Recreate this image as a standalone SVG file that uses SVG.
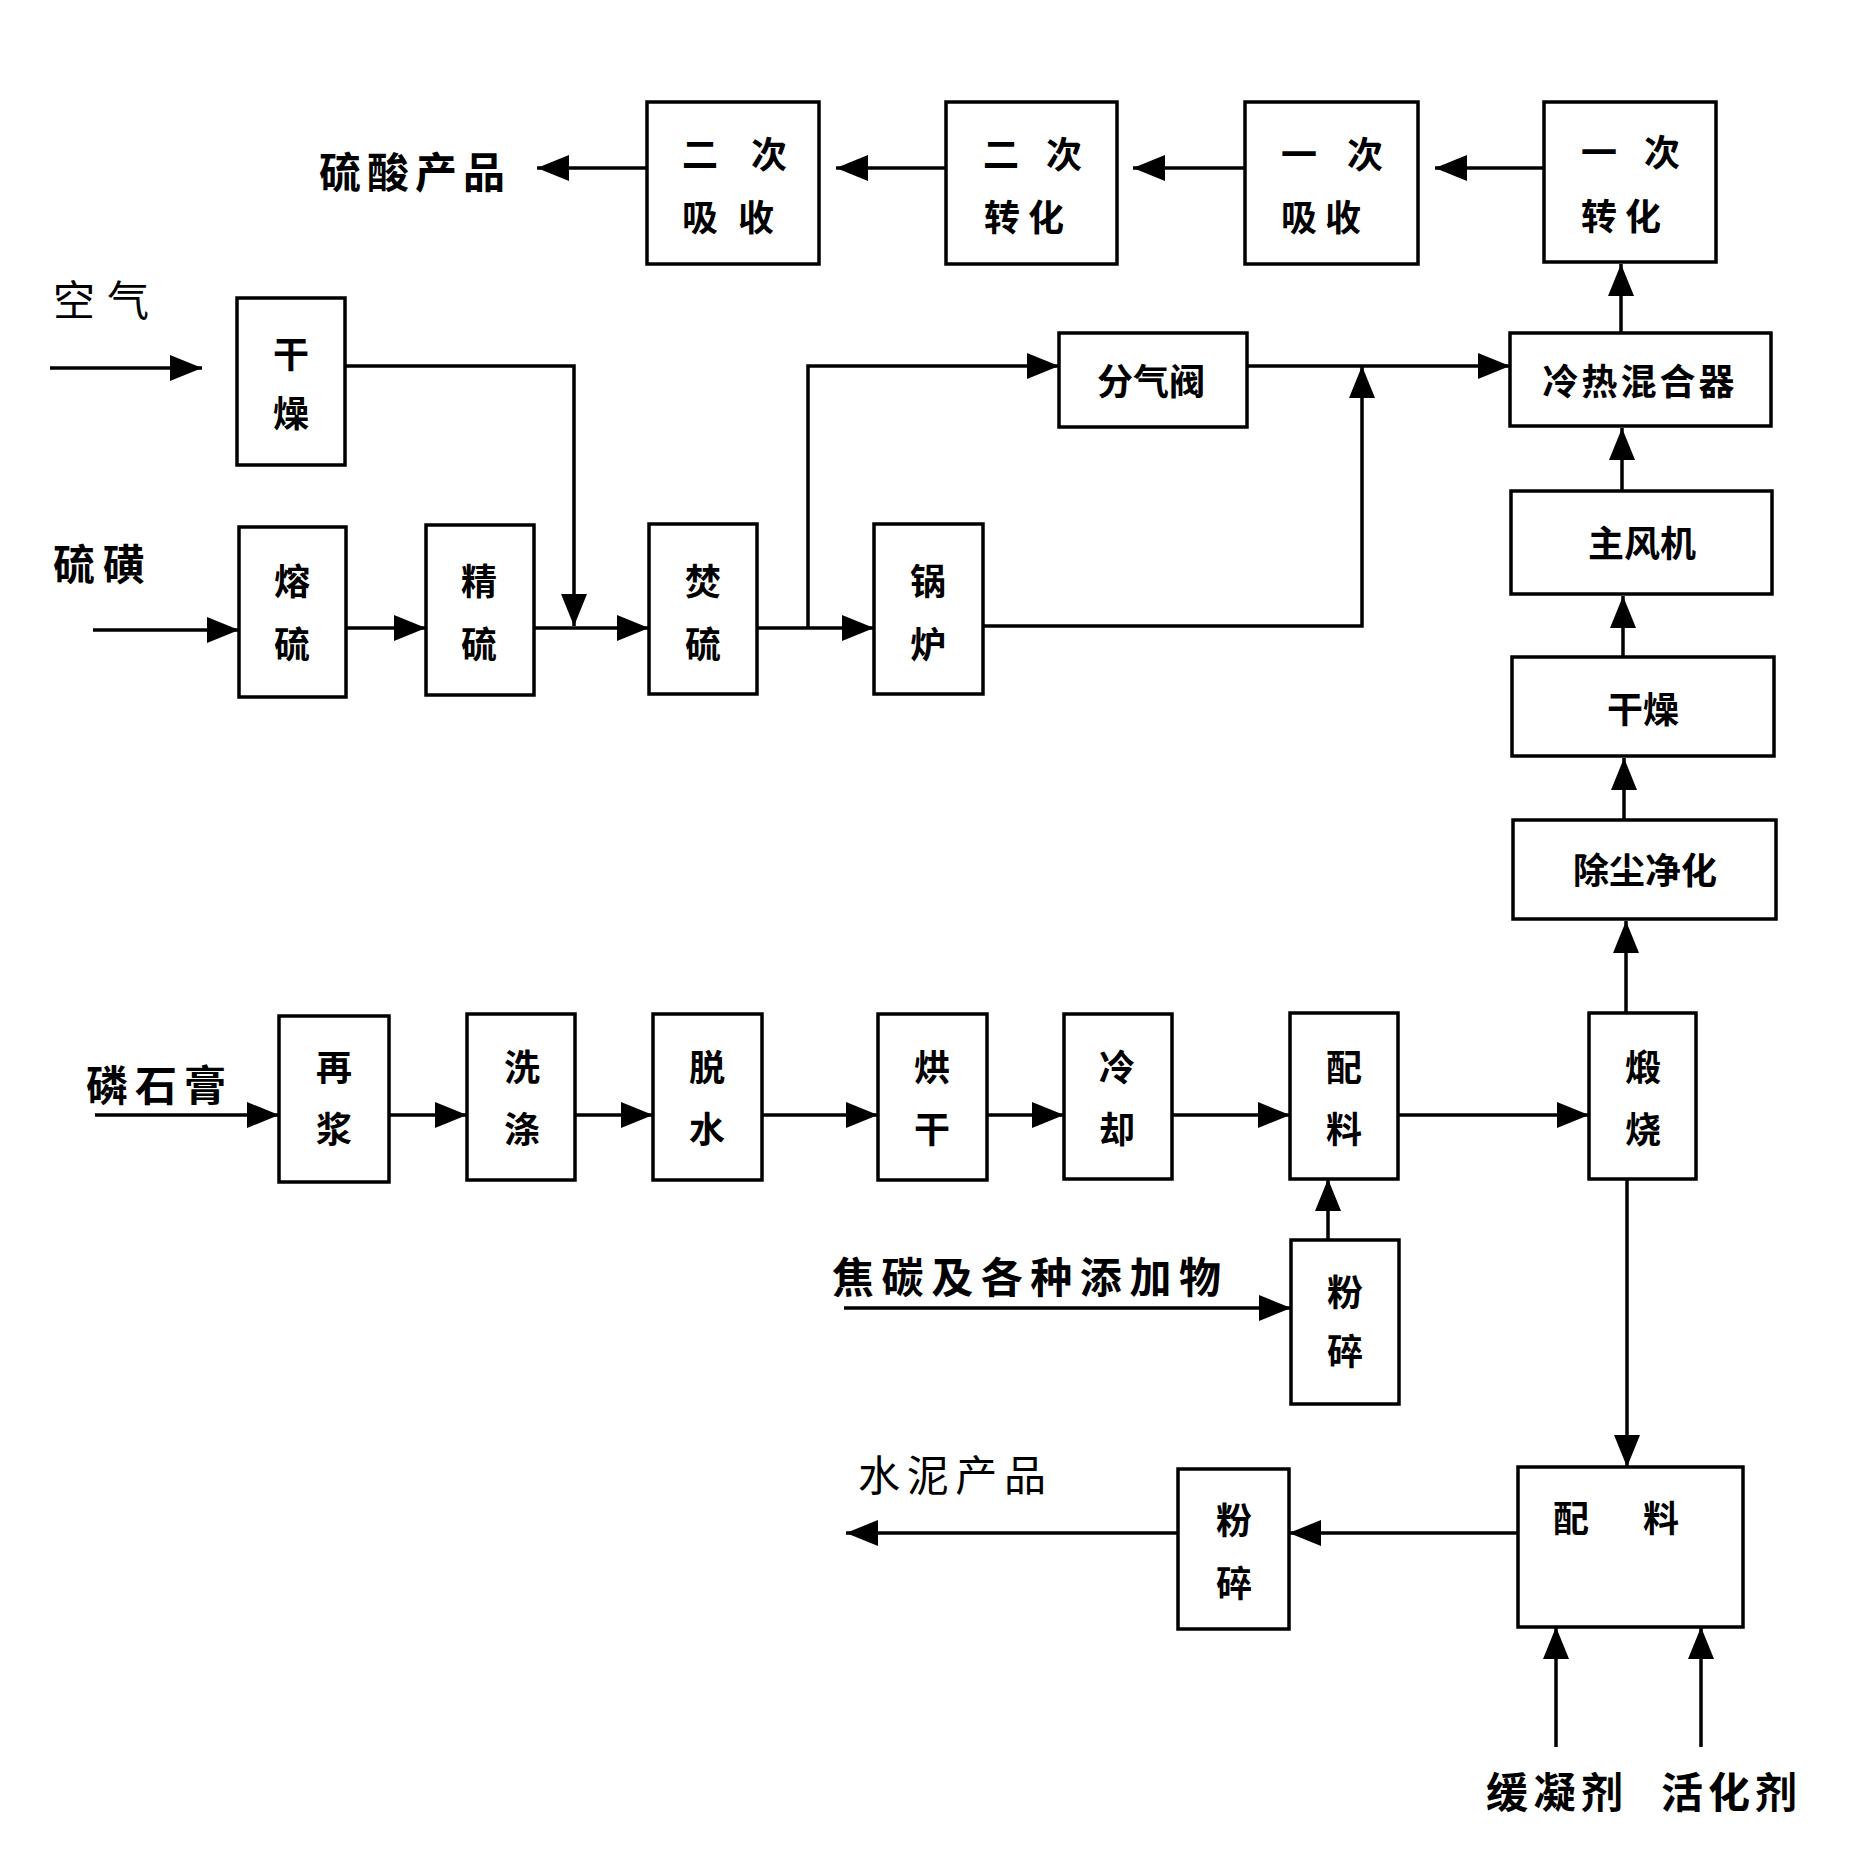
<svg xmlns="http://www.w3.org/2000/svg" width="1852" height="1864" viewBox="0 0 1852 1864">
<style>
.box{fill:#fff;stroke:#000;stroke-width:3.5}
.t{font-family:"Noto Sans CJK SC","Noto Sans CJK TC",sans-serif;font-weight:bold;font-size:36px;fill:#000;text-anchor:middle;dominant-baseline:central}
.lbl{font-family:"Noto Sans CJK SC","Noto Sans CJK TC",sans-serif;font-weight:bold;font-size:42px;fill:#000;dominant-baseline:central}
.thin{font-weight:normal}
.c{fill:none;stroke:#000;stroke-width:3.5}
</style>
<defs>
<marker id="a" markerUnits="userSpaceOnUse" markerWidth="34" markerHeight="28" refX="32" refY="13" orient="auto">
<path d="M0,0 L32,13 L0,26 z" fill="#000"/>
</marker>
</defs>
<rect width="1852" height="1864" fill="#fff"/>

<g id="connectors">
<line class="c" x1="647" y1="168" x2="537" y2="168" marker-end="url(#a)"/>
<line class="c" x1="946" y1="168" x2="836" y2="168" marker-end="url(#a)"/>
<line class="c" x1="1245" y1="168" x2="1133" y2="168" marker-end="url(#a)"/>
<line class="c" x1="1544" y1="168" x2="1435" y2="168" marker-end="url(#a)"/>
<line class="c" x1="1621" y1="333" x2="1621" y2="264" marker-end="url(#a)"/>
<line class="c" x1="1622" y1="491" x2="1622" y2="428" marker-end="url(#a)"/>
<line class="c" x1="1623" y1="657" x2="1623" y2="596" marker-end="url(#a)"/>
<line class="c" x1="1624" y1="820" x2="1624" y2="758" marker-end="url(#a)"/>
<line class="c" x1="1626" y1="1013" x2="1626" y2="921" marker-end="url(#a)"/>
<line class="c" x1="1627" y1="1179" x2="1627" y2="1467" marker-end="url(#a)"/>
<line class="c" x1="50" y1="368" x2="202" y2="368" marker-end="url(#a)"/>
<polyline class="c" points="345,366 574,366 574,626" marker-end="url(#a)"/>
<line class="c" x1="93" y1="630" x2="239" y2="630" marker-end="url(#a)"/>
<line class="c" x1="346" y1="628" x2="426" y2="628" marker-end="url(#a)"/>
<line class="c" x1="534" y1="628" x2="649" y2="628" marker-end="url(#a)"/>
<line class="c" x1="757" y1="628" x2="874" y2="628" marker-end="url(#a)"/>
<polyline class="c" points="808,628 808,366 1059,366" marker-end="url(#a)"/>
<line class="c" x1="1247" y1="366" x2="1510" y2="366" marker-end="url(#a)"/>
<polyline class="c" points="983,626 1362,626 1362,366" marker-end="url(#a)"/>
<line class="c" x1="95" y1="1115" x2="279" y2="1115" marker-end="url(#a)"/>
<line class="c" x1="389" y1="1115" x2="467" y2="1115" marker-end="url(#a)"/>
<line class="c" x1="575" y1="1115" x2="653" y2="1115" marker-end="url(#a)"/>
<line class="c" x1="762" y1="1115" x2="878" y2="1115" marker-end="url(#a)"/>
<line class="c" x1="987" y1="1115" x2="1064" y2="1115" marker-end="url(#a)"/>
<line class="c" x1="1172" y1="1115" x2="1290" y2="1115" marker-end="url(#a)"/>
<line class="c" x1="1398" y1="1115" x2="1589" y2="1115" marker-end="url(#a)"/>
<line class="c" x1="844" y1="1308" x2="1291" y2="1308" marker-end="url(#a)"/>
<line class="c" x1="1328" y1="1240" x2="1328" y2="1179" marker-end="url(#a)"/>
<line class="c" x1="1518" y1="1533" x2="1289" y2="1533" marker-end="url(#a)"/>
<line class="c" x1="1178" y1="1533" x2="846" y2="1533" marker-end="url(#a)"/>
<line class="c" x1="1556" y1="1747" x2="1556" y2="1627" marker-end="url(#a)"/>
<line class="c" x1="1701" y1="1747" x2="1701" y2="1627" marker-end="url(#a)"/>
</g>

<g id="n-erci-xishou"><rect class="box" x="647" y="102" width="172" height="162"/><text class="t" x="700 769" y="152">二次</text><text class="t" x="700 756" y="215">吸收</text></g>
<g id="n-erci-zhuanhua"><rect class="box" x="946" y="102" width="171" height="162"/><text class="t" x="1001 1064" y="152">二次</text><text class="t" x="1002 1046" y="215">转化</text></g>
<g id="n-yici-xishou"><rect class="box" x="1245" y="102" width="173" height="162"/><text class="t" x="1299 1365" y="152">一次</text><text class="t" x="1299 1343" y="215">吸收</text></g>
<g id="n-yici-zhuanhua"><rect class="box" x="1544" y="102" width="172" height="160"/><text class="t" x="1599 1662" y="150">一次</text><text class="t" x="1599 1643" y="214">转化</text></g>

<g id="n-ganzao1"><rect class="box" x="237" y="298" width="108" height="167"/><text class="t" x="291" y="352">干</text><text class="t" x="291" y="411">燥</text></g>
<g id="n-fenqifa"><rect class="box" x="1059" y="333" width="188" height="94"/><text class="t" x="1151" y="379">分气阀</text></g>
<g id="n-lengre"><rect class="box" x="1510" y="333" width="261" height="93"/><text class="t" x="1640" y="379" letter-spacing="3">冷热混合器</text></g>

<g id="n-rongliu"><rect class="box" x="239" y="527" width="107" height="170"/><text class="t" x="292" y="579">熔</text><text class="t" x="292" y="642">硫</text></g>
<g id="n-jingliu"><rect class="box" x="426" y="525" width="108" height="170"/><text class="t" x="479" y="579">精</text><text class="t" x="479" y="642">硫</text></g>
<g id="n-fenliu"><rect class="box" x="649" y="524" width="108" height="170"/><text class="t" x="703" y="579">焚</text><text class="t" x="703" y="642">硫</text></g>
<g id="n-guolu"><rect class="box" x="874" y="524" width="109" height="170"/><text class="t" x="928" y="579">锅</text><text class="t" x="928" y="642">炉</text></g>

<g id="n-zhufengji"><rect class="box" x="1511" y="491" width="261" height="103"/><text class="t" x="1642" y="541" font-size="42">主风机</text></g>
<g id="n-ganzao2"><rect class="box" x="1512" y="657" width="262" height="99"/><text class="t" x="1643" y="707" font-size="38">干燥</text></g>
<g id="n-chuchen"><rect class="box" x="1513" y="820" width="263" height="99"/><text class="t" x="1645" y="868" font-size="42">除尘净化</text></g>

<g id="n-zaijiang"><rect class="box" x="279" y="1016" width="110" height="166"/><text class="t" x="334" y="1065">再</text><text class="t" x="334" y="1127">浆</text></g>
<g id="n-xidi"><rect class="box" x="467" y="1014" width="108" height="166"/><text class="t" x="522" y="1065">洗</text><text class="t" x="522" y="1127">涤</text></g>
<g id="n-tuoshui"><rect class="box" x="653" y="1014" width="109" height="166"/><text class="t" x="707" y="1065">脱</text><text class="t" x="707" y="1127">水</text></g>
<g id="n-honggan"><rect class="box" x="878" y="1014" width="109" height="166"/><text class="t" x="932" y="1065">烘</text><text class="t" x="932" y="1127">干</text></g>
<g id="n-lengque"><rect class="box" x="1064" y="1014" width="108" height="165"/><text class="t" x="1117" y="1065">冷</text><text class="t" x="1117" y="1127">却</text></g>
<g id="n-peiliao1"><rect class="box" x="1290" y="1013" width="108" height="166"/><text class="t" x="1344" y="1065">配</text><text class="t" x="1344" y="1127">料</text></g>
<g id="n-duanshao"><rect class="box" x="1589" y="1013" width="107" height="166"/><text class="t" x="1643" y="1065">煅</text><text class="t" x="1643" y="1127">烧</text></g>
<g id="n-fensui1"><rect class="box" x="1291" y="1240" width="108" height="164"/><text class="t" x="1345" y="1290">粉</text><text class="t" x="1345" y="1349">碎</text></g>

<g id="n-fensui2"><rect class="box" x="1178" y="1469" width="111" height="160"/><text class="t" x="1234" y="1518">粉</text><text class="t" x="1234" y="1581">碎</text></g>
<g id="n-peiliao2"><rect class="box" x="1518" y="1467" width="225" height="160"/><text class="t" x="1571 1661" y="1516">配料</text></g>

<g id="labels">
<text class="lbl" x="319" y="169" textLength="186" lengthAdjust="spacing">硫酸产品</text>
<text class="lbl thin" x="53" y="297" font-size="44" textLength="96" lengthAdjust="spacing">空气</text>
<text class="lbl" x="53" y="561" textLength="92" lengthAdjust="spacing">硫磺</text>
<text class="lbl" x="86" y="1082" textLength="140" lengthAdjust="spacing">磷石膏</text>
<text class="lbl" x="832" y="1274" font-size="44" textLength="389" lengthAdjust="spacing">焦碳及各种添加物</text>
<text class="lbl thin" x="858" y="1472" textLength="188" lengthAdjust="spacing">水泥产品</text>
<text class="lbl" x="1486" y="1789" textLength="137" lengthAdjust="spacing">缓凝剂</text>
<text class="lbl" x="1661" y="1789" textLength="136" lengthAdjust="spacing">活化剂</text>
</g>
</svg>
